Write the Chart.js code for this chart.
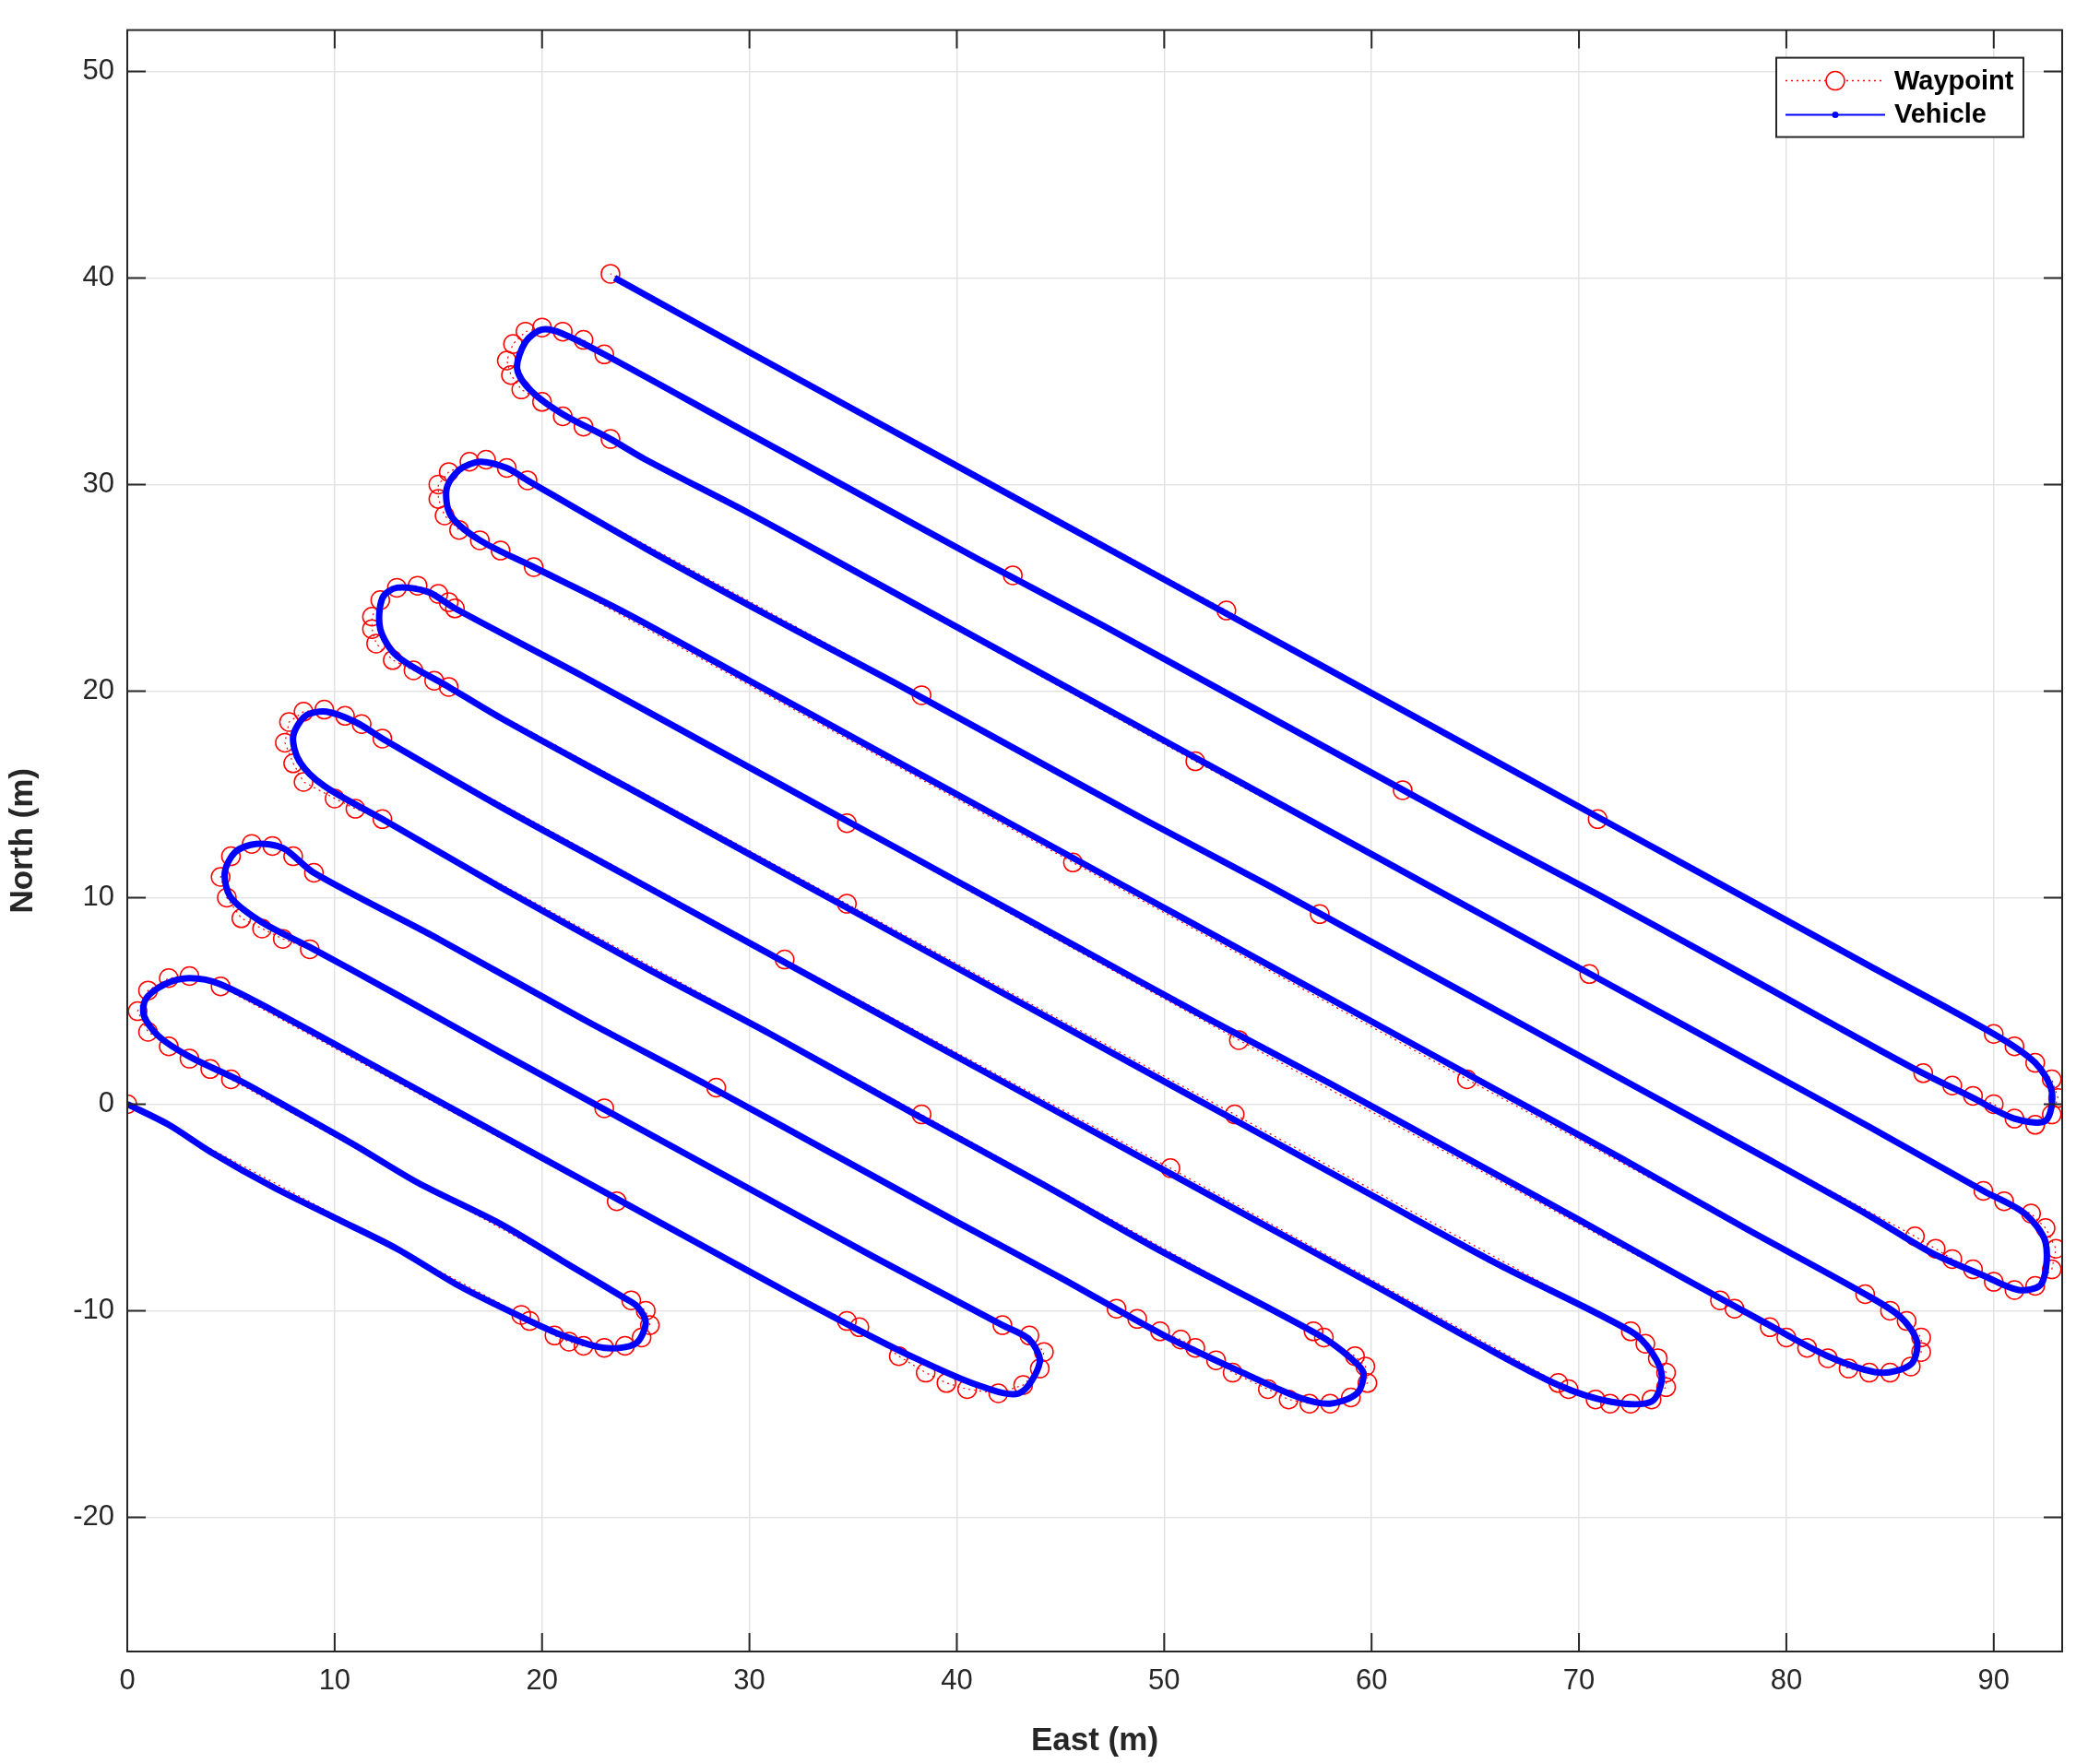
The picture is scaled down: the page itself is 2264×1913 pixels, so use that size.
<!DOCTYPE html>
<html><head><meta charset="utf-8">
<script src="https://cdn.jsdelivr.net/npm/chart.js@4.4.0/dist/chart.umd.min.js"></script>
<style>html,body{margin:0;padding:0;background:#fff}</style>
</head><body>
<canvas id="c" width="2264" height="1913"></canvas>
<script>
const waypointE = [0,19,19.4,20.6,21.3,22,23,24,24.8,25.2,25,24.3, 5,4,3,2,1,0.5,1,2,3,4.5, 23.6,34.7,35.3,37.2,38.5,39.5,40.5,42,43.2,44,44.2,43.5,42.2, 23,8.8,7.5,6.5,5.5,4.8,4.5,5,6,7,8,9, 28.4,47.7,48.7,49.8,50.8,51.5,52.5,53.3,55,56,57,58,59,59.8,59.7,59.2,57.7,57.2, 38.3,12.3,11,10,8.5,8,7.6,7.8,8.5,9.5,10.5,11.3,12.3, 31.7,50.3,69,69.5,70.8,71.5,72.5,73.5,74.2,74.2,73.8,73.2,72.5, 53.4,34.7,15.5,14.8,13.8,12.8,12,11.8,11.8,12.2,13,14,15,15.5,15.8, 34.7,53.6,76.8,77.5,79.2,80,81,82,83,84,85,86,86.5,86.5,85.8,85,83.8, 64.6,45.6,19.6,18,17,16,15.3,15,15,15.5,16.5,17.3,18.3,19.3, 38.3,57.5,86.2,87.2,88,89,90,91,92,92.8,93,92.5,91.8,90.5,89.5, 70.5,51.5,23.3,22,21,20,19,18.5,18.3,18.6,19.2,20,21,22,23, 42.7,61.5,86.6,88,89,90,91,92,92.8,93.1,92.8,92,91,90, 70.9,53,23.3];
const waypointN = [0,-10.2,-10.5,-11.2,-11.5,-11.7,-11.8,-11.7,-11.3,-10.7,-10,-9.5, 1.2,1.7,2.2,2.8,3.5,4.5,5.5,6.1,6.2,5.7, -4.7,-10.5,-10.8,-12.2,-13,-13.5,-13.8,-14,-13.6,-12.8,-12,-11.2,-10.7, -0.2,7.5,8,8.5,9,10,11,12,12.6,12.5,12,11.2, 0.8,-9.9,-10.4,-11,-11.4,-11.8,-12.4,-13,-13.8,-14.3,-14.5,-14.5,-14.2,-13.5,-12.7,-12.2,-11.3,-11, -0.5,13.8,14.3,14.8,15.6,16.5,17.5,18.5,19,19.1,18.8,18.4,17.7, 7,-3.1,-13.5,-13.8,-14.3,-14.5,-14.5,-14.3,-13.7,-13,-12.3,-11.6,-11, -0.5,9.7,20.2,20.5,21,21.5,22.3,23,23.6,24.4,25,25.1,24.7,24.3,24, 13.6,3.1,-9.5,-9.9,-10.8,-11.3,-11.8,-12.3,-12.8,-13,-13,-12.7,-12,-11.3,-10.5,-10,-9.2, 1.2,11.7,26,26.8,27.3,27.8,28.5,29.3,30,30.6,31.1,31.2,30.8,30.2, 19.8,9.2,-6.4,-7,-7.5,-8,-8.6,-9,-8.8,-8,-7,-6,-5.3,-4.7,-4.2, 6.3,16.6,32.2,32.8,33.3,34,34.6,35.3,36,36.8,37.4,37.6,37.4,37,36.3, 25.6,15.2,1.5,0.9,0.4,0,-0.7,-1,-0.5,0.3,1.2,2,2.8,3.4, 13.8,23.9,40.2];
const vehicleE = [0,2,4,7,10,13,16,19,21,23,24.5,25,24.6,24,21,18,14,11,8,5.5,3,1.5,0.8,0.9,1.8,3,4.5, 8,12,16,20,24,28,32,35,38,41,43,44,43.5,42.2, 36,30,24,18,13,8.8,6.5,5,4.7,5.2,6.2,7.5,9, 15,22,28,34,40,45,50,54,56.5,58,59.3,59.6,59,57.5, 50,44,38,31,25,18,12.3,9.5,8.3,8,8.6,9.6,11,12.3, 18,24,30,36,42,48,54,60,65,69,71.5,73.5,74,73.5,72.5, 66,60,54,48,42,36,30,24,18,15.5,13,12.2,12.3,13,14.5,15.8, 22,28,34,40,46,52,58,64,70,75,79,82,84.5,86,86.3,85.5,83.8, 78,72,66,60,54,48,42,36,30,24,19.6,17,15.6,15.4,16,17,18.3,19.3, 25,31,37,43,49,55,61,67,73,79,84,87,89.5,91.2,92.3,92.5,91.5,89.5, 84,78,72,66,60,54,48,42,36,30,25,23.3,21,19.5,18.8,19.2,20,21,23, 29,35,41,47,53,59,65,71,77,82,86,89,91,92.5,92.8,92,90, 84,78,72,66,60,54,48,42,36,30,23.5];
const vehicleN = [0,-1,-2.3,-4,-5.5,-7,-8.8,-10.3,-11.2,-11.8,-11.6,-10.6,-9.8,-9.4,-7.6,-5.8,-3.8,-2,-0.3,1.1,2.3,3.3,4.3,5.1,5.8,6.1,5.8, 4,1.8,-0.4,-2.6,-4.8,-7,-9.2,-10.8,-12.3,-13.6,-14,-12.5,-11.4,-10.7, -7.4,-4.1,-0.8,2.5,5.3,7.6,8.8,10,11.2,12.2,12.6,12.4,11.2, 8,4.1,0.9,-2.4,-5.7,-8.4,-11.2,-13.1,-14.2,-14.5,-14,-13,-12.3,-11.2, -7.2,-3.8,-0.5,3.4,6.6,10.5,13.8,15.4,16.6,17.8,18.8,19,18.5,17.7, 14.4,11.1,7.8,4.5,1.2,-2.1,-5.4,-8.7,-11.5,-13.6,-14.4,-14.4,-13.2,-12,-11, -7.7,-4.4,-1.1,2.2,5.5,8.8,12.1,15.4,18.7,20.2,21.7,23,24.5,25,24.8,24, 20.7,17.4,14.1,10.8,7.5,4.2,1,-2.3,-5.6,-8.4,-10.6,-12.2,-13,-12.6,-11.5,-10.3,-9.2, -6,-2.6,0.7,4,7.3,10.6,13.9,17.2,20.5,23.8,26,27.3,28.5,29.8,30.7,31.1,30.8,30.2, 26.9,23.6,20.4,17.1,13.8,10.6,7.3,4,0.7,-2.6,-5.4,-7.2,-8.3,-9,-8.7,-6.7,-5.3,-4.2, -1.1,2.2,5.5,8.8,12.1,15.4,18.7,22,25.3,28.6,31.2,32.2,33.4,34.5,35.6,36.9,37.5,37.3,36.3, 33,29.7,26.4,23.2,19.9,16.6,13.3,10.1,6.8,4,1.8,0.3,-0.7,-0.8,0.6,2,3.4, 6.7,10,13.3,16.6,19.9,23.2,26.5,29.8,33.1,36.4,40];
const xTicks = [0,10,20,30,40,50,60,70,80,90];
const yTicks = [-20,-10,0,10,20,30,40,50];
const seriesNames = ['Waypoint','Vehicle'];

const wpData = waypointE.map((e,i)=>({x:e,y:waypointN[i]}));
const vhData = vehicleE.map((e,i)=>({x:e,y:vehicleN[i]}));

const frame = {
  id:'frame',
  afterDraw(chart){
    const {ctx, chartArea:a, scales:{x,y}} = chart;
    ctx.save();
    ctx.strokeStyle='#262626'; ctx.lineWidth=2;
    ctx.strokeRect(a.left,a.top,a.right-a.left,a.bottom-a.top);
    ctx.beginPath();
    xTicks.forEach(v=>{const p=x.getPixelForValue(v);ctx.moveTo(p,a.bottom);ctx.lineTo(p,a.bottom-20);ctx.moveTo(p,a.top);ctx.lineTo(p,a.top+20);});
    yTicks.forEach(v=>{const p=y.getPixelForValue(v);ctx.moveTo(a.left,p);ctx.lineTo(a.left+20,p);ctx.moveTo(a.right,p);ctx.lineTo(a.right-20,p);});
    ctx.stroke();
    // legend
    const lw=268, lh=86, lx=a.right-42-lw, ly=a.top+30;
    ctx.fillStyle='#fff'; ctx.fillRect(lx,ly,lw,lh);
    ctx.strokeStyle='#262626'; ctx.lineWidth=2; ctx.strokeRect(lx,ly,lw,lh);
    ctx.strokeStyle='red'; ctx.lineWidth=1.5; ctx.setLineDash([2,4]);
    ctx.beginPath(); ctx.moveTo(lx+10,ly+25); ctx.lineTo(lx+118,ly+25); ctx.stroke();
    ctx.setLineDash([]);
    ctx.fillStyle='#fff'; ctx.beginPath(); ctx.arc(lx+64,ly+25,10,0,Math.PI*2); ctx.fill(); ctx.stroke();
    ctx.strokeStyle='blue'; ctx.lineWidth=2;
    ctx.beginPath(); ctx.moveTo(lx+10,ly+62); ctx.lineTo(lx+118,ly+62); ctx.stroke();
    ctx.fillStyle='blue'; ctx.beginPath(); ctx.arc(lx+64,ly+62,3.5,0,Math.PI*2); ctx.fill();
    ctx.fillStyle='#000'; ctx.font='bold 29px Arial, "Liberation Sans", sans-serif'; ctx.textBaseline='middle';
    ctx.fillText(seriesNames[0],lx+128,ly+26); ctx.fillText(seriesNames[1],lx+128,ly+62);
    ctx.restore();
  }
};

new Chart(document.getElementById('c'),{
  type:'scatter',
  data:{datasets:[
    {label:seriesNames[0],data:wpData,showLine:true,borderColor:'red',borderWidth:1.2,borderDash:[2,4],pointStyle:'circle',pointRadius:10,pointBorderColor:'red',pointBackgroundColor:'rgba(0,0,0,0)',pointBorderWidth:1.5,order:2},
    {label:seriesNames[1],data:vhData,showLine:true,borderColor:'#0000ff',borderWidth:7,tension:0.3,pointRadius:0,pointBackgroundColor:'#0000ff',pointBorderColor:'#0000ff',order:1}
  ]},
  options:{
    responsive:false,animation:false,
    layout:{padding:{top:3,right:28,left:0,bottom:0}},
    plugins:{legend:{display:false},tooltip:{enabled:false}},
    scales:{
      x:{type:'linear',min:0,max:93.3,
        afterBuildTicks(s){s.ticks=xTicks.map(v=>({value:v}));},
        afterFit(s){s.height=122;},
        grid:{color:'#e3e3e3',lineWidth:1.5,drawTicks:false},border:{display:false},
        ticks:{color:'#262626',font:{size:31,family:'Arial, "Liberation Sans", sans-serif'},padding:14},
        title:{display:true,text:'East (m)',color:'#262626',font:{size:35,weight:'bold',family:'Arial, "Liberation Sans", sans-serif'},padding:{top:4}}},
      y:{type:'linear',min:-26.5,max:52,
        afterBuildTicks(s){s.ticks=yTicks.map(v=>({value:v}));},
        afterFit(s){s.width=138;},
        grid:{color:'#e3e3e3',lineWidth:1.5,drawTicks:false},border:{display:false},
        ticks:{color:'#262626',font:{size:31,family:'Arial, "Liberation Sans", sans-serif'},padding:14},
        title:{display:true,text:'North (m)',color:'#262626',font:{size:35,weight:'bold',family:'Arial, "Liberation Sans", sans-serif'},padding:{bottom:4}}}
    }
  },
  plugins:[frame]
});
</script>
</body></html>
